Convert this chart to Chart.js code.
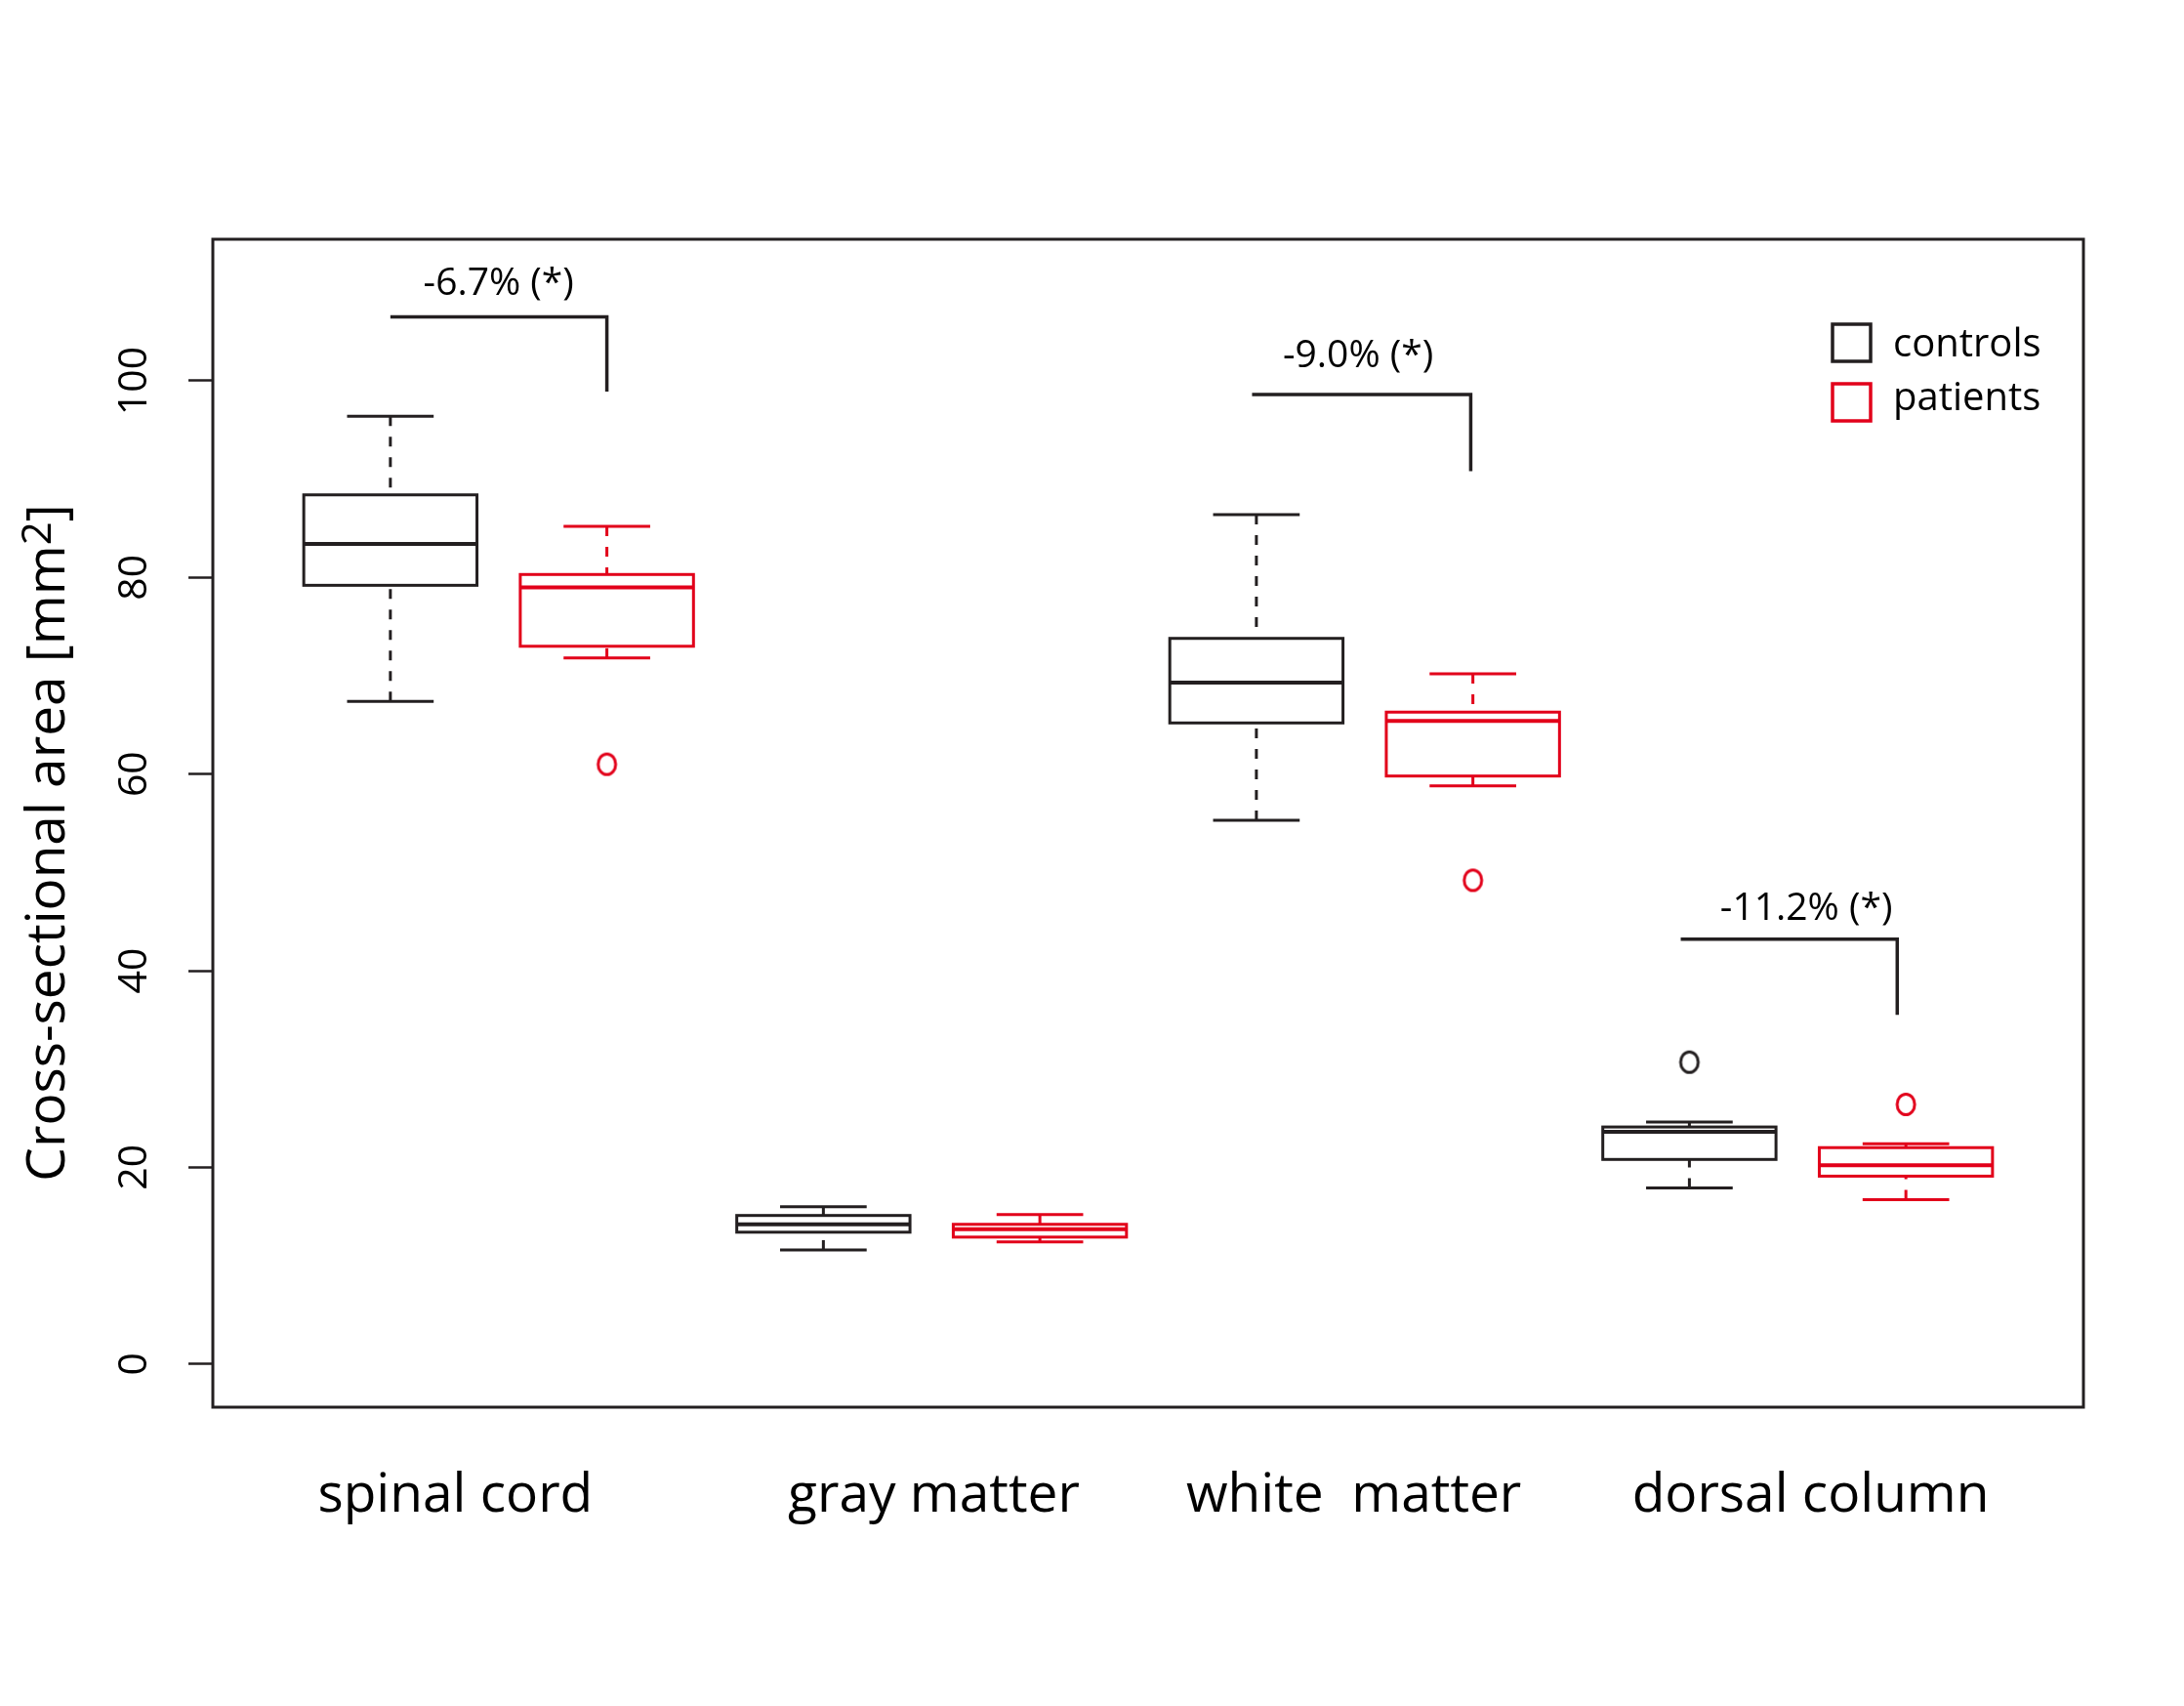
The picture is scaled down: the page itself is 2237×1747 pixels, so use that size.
<!DOCTYPE html>
<html><head><meta charset="utf-8">
<script src="https://cdn.jsdelivr.net/npm/chart.js@4.4.1/dist/chart.umd.min.js"></script>
<style>html,body{margin:0;padding:0;background:#fff;}#wrap{width:2237px;height:1747px;position:relative;}</style>
</head><body><div id="wrap"><canvas id="c"></canvas></div>
<script>
// ---- data ----
const categories = ['spinal cord', 'gray matter', 'white  matter', 'dorsal column'];
const categoryLabelX = [1.30, 3.51, 5.45, 7.56];
const groups = ['controls', 'patients'];
const yTicks = [0, 20, 40, 60, 80, 100];
const yTitle = ['Cross-sectional area [mm', '2', ']'];

const controlsLower  = [67.4, 11.6, 55.3, 17.9];
const controlsQ1     = [79.2, 13.4, 65.2, 20.8];
const controlsMedian = [83.4, 14.2, 69.3, 23.6];
const controlsQ3     = [88.4, 15.1, 73.8, 24.1];
const controlsUpper  = [96.4, 16.0, 86.4, 24.6];
const controlsOutliers = [[], [], [], [30.7]];

const patientsLower  = [71.8, 12.4, 58.8, 16.7];
const patientsQ1     = [73.0, 12.9, 59.8, 19.1];
const patientsMedian = [79.0, 13.7, 65.4, 20.2];
const patientsQ3     = [80.3, 14.2, 66.3, 22.0];
const patientsUpper  = [85.2, 15.2, 70.2, 22.4];
const patientsOutliers = [[61.0], [], [49.2], [26.4]];

const diffLabels = ['-6.7% (*)', '-9.0% (*)', '-11.2% (*)'];
const diffFromX = [1.0, 4.98, 6.96];
const diffToX = [2.0, 5.99, 7.96];
const diffTop = [106.5, 98.6, 43.2];
const diffBottom = [98.9, 90.8, 35.5];
const diffTextX = [1.5, 5.47, 7.54];
const diffTextY = [108.7, 101.4, 45.2];

// ---- styles ----
const BLACK = '#231f20';
const RED = '#e2001a';
const colors = [BLACK, RED];
const FONT = '"Open Sans", "DejaVu Sans", sans-serif';

const stats = [
  {lower: controlsLower, q1: controlsQ1, med: controlsMedian, q3: controlsQ3, upper: controlsUpper, out: controlsOutliers},
  {lower: patientsLower, q1: patientsQ1, med: patientsMedian, q3: patientsQ3, upper: patientsUpper, out: patientsOutliers}
];
const boxPos = (cat, g) => cat * 2 + g + 1;

function ovalImage(color) {
  const c = document.createElement('canvas');
  c.width = 26; c.height = 30;
  const g = c.getContext('2d');
  g.strokeStyle = color; g.lineWidth = 3;
  g.beginPath(); g.ellipse(13, 15, 9, 10.5, 0, 0, Math.PI * 2); g.stroke();
  return c;
}

const datasets = groups.map((name, g) => {
  const pts = [];
  stats[g].out.forEach((arr, cat) => arr.forEach(v => pts.push({x: boxPos(cat, g), y: v})));
  return {
    label: name, data: pts, pointStyle: ovalImage(colors[g]),
    borderColor: colors[g], backgroundColor: 'transparent'
  };
});

const boxPlugin = {
  id: 'boxes',
  beforeDatasetsDraw(chart) {
    const ctx = chart.ctx, xs = chart.scales.x, ys = chart.scales.y;
    const halfW = 0.4, capW = 0.2;
    ctx.save();
    stats.forEach((s, g) => {
      ctx.strokeStyle = colors[g];
      categories.forEach((_, cat) => {
        const p = boxPos(cat, g);
        const xl = xs.getPixelForValue(p - halfW), xr = xs.getPixelForValue(p + halfW);
        const xc = xs.getPixelForValue(p);
        const cl = xs.getPixelForValue(p - capW), cr = xs.getPixelForValue(p + capW);
        const yL = ys.getPixelForValue(s.lower[cat]), y1 = ys.getPixelForValue(s.q1[cat]);
        const yM = ys.getPixelForValue(s.med[cat]), y3 = ys.getPixelForValue(s.q3[cat]);
        const yU = ys.getPixelForValue(s.upper[cat]);
        ctx.lineWidth = 3; ctx.setLineDash([10, 11]); ctx.lineCap = 'butt';
        ctx.beginPath(); ctx.moveTo(xc, yU); ctx.lineTo(xc, y3); ctx.stroke();
        ctx.beginPath(); ctx.moveTo(xc, yL); ctx.lineTo(xc, y1); ctx.stroke();
        ctx.setLineDash([]);
        ctx.beginPath(); ctx.moveTo(cl, yU); ctx.lineTo(cr, yU); ctx.moveTo(cl, yL); ctx.lineTo(cr, yL); ctx.stroke();
        ctx.fillStyle = '#fff';
        ctx.fillRect(xl, y3, xr - xl, y1 - y3);
        ctx.lineJoin = 'miter';
        ctx.strokeRect(xl, y3, xr - xl, y1 - y3);
        ctx.lineWidth = 4;
        ctx.beginPath(); ctx.moveTo(xl, yM); ctx.lineTo(xr, yM); ctx.stroke();
      });
    });
    ctx.restore();
  },
  afterDraw(chart) {
    const ctx = chart.ctx, xs = chart.scales.x, ys = chart.scales.y, a = chart.chartArea;
    ctx.save();
    // frame
    ctx.strokeStyle = BLACK; ctx.lineWidth = 3;
    ctx.strokeRect(a.left, a.top, a.right - a.left, a.bottom - a.top);
    // difference brackets
    ctx.lineWidth = 3.5; ctx.lineJoin = 'miter';
    diffLabels.forEach((t, i) => {
      const x1 = xs.getPixelForValue(diffFromX[i]), x2 = xs.getPixelForValue(diffToX[i]);
      const yt = ys.getPixelForValue(diffTop[i]), yb = ys.getPixelForValue(diffBottom[i]);
      ctx.beginPath(); ctx.moveTo(x1, yt); ctx.lineTo(x2, yt); ctx.lineTo(x2, yb); ctx.stroke();
      ctx.fillStyle = '#000'; ctx.font = '39px ' + FONT;
      ctx.textAlign = 'center'; ctx.textBaseline = 'alphabetic';
      ctx.fillText(t, xs.getPixelForValue(diffTextX[i]), ys.getPixelForValue(diffTextY[i]));
    });
    // legend
    ctx.font = '40px ' + FONT; ctx.textAlign = 'left'; ctx.textBaseline = 'alphabetic';
    groups.forEach((name, g) => {
      const top = a.top + 87 + g * 61;
      ctx.strokeStyle = colors[g]; ctx.lineWidth = 3.5;
      ctx.strokeRect(a.right - 257, top, 39, 38);
      ctx.fillStyle = '#000';
      ctx.fillText(name, a.right - 195, a.top + 120 + g * 55);
    });
    // y-axis title with raised "2"
    const big = '55px ' + FONT, small = '42px ' + FONT;
    ctx.font = big; const w0 = ctx.measureText(yTitle[0]).width, w2 = ctx.measureText(yTitle[2]).width;
    ctx.font = small; const w1 = ctx.measureText(yTitle[1]).width;
    const total = w0 + w1 + w2;
    const cy = (a.top + a.bottom) / 2 + 20;
    ctx.translate(66, cy); ctx.rotate(-Math.PI / 2);
    ctx.fillStyle = '#000'; ctx.textAlign = 'left'; ctx.textBaseline = 'alphabetic';
    let x = -total / 2;
    ctx.font = big; ctx.fillText(yTitle[0], x, 0); x += w0;
    ctx.font = small; ctx.fillText(yTitle[1], x, -14); x += w1;
    ctx.font = big; ctx.fillText(yTitle[2], x, 0);
    ctx.restore();
  }
};

new Chart(document.getElementById('c'), {
  type: 'scatter',
  data: {datasets},
  options: {
    responsive: true, maintainAspectRatio: false, animation: false, events: [],
    layout: {padding: {top: 245, right: 103, left: 0, bottom: 0}},
    plugins: {legend: {display: false}, tooltip: {enabled: false}},
    scales: {
      x: {
        type: 'linear', min: 0.18, max: 8.82,
        border: {display: false},
        grid: {display: false, drawTicks: false},
        afterBuildTicks: s => { s.ticks = categoryLabelX.map(v => ({value: v})); },
        afterFit: s => { s.height = 306; },
        ticks: {
          autoSkip: false, maxRotation: 0, minRotation: 0, padding: 58, color: '#000',
          font: {family: FONT, size: 55},
          callback: (v, i) => categories[i]
        }
      },
      y: {
        type: 'linear', min: -4.4, max: 114.4,
        border: {display: false},
        grid: {display: true, drawOnChartArea: false, drawTicks: true, tickLength: 25, tickColor: BLACK, tickWidth: 2.5, color: BLACK},
        afterBuildTicks: s => { s.ticks = yTicks.map(v => ({value: v})); },
        afterFit: s => { s.width = 218; },
        ticks: {
          minRotation: 90, maxRotation: 90, crossAlign: 'center', padding: 20, color: '#000',
          font: {family: FONT, size: 41}
        },
        title: {display: false}
      }
    }
  },
  plugins: [boxPlugin]
});
</script></body></html>
